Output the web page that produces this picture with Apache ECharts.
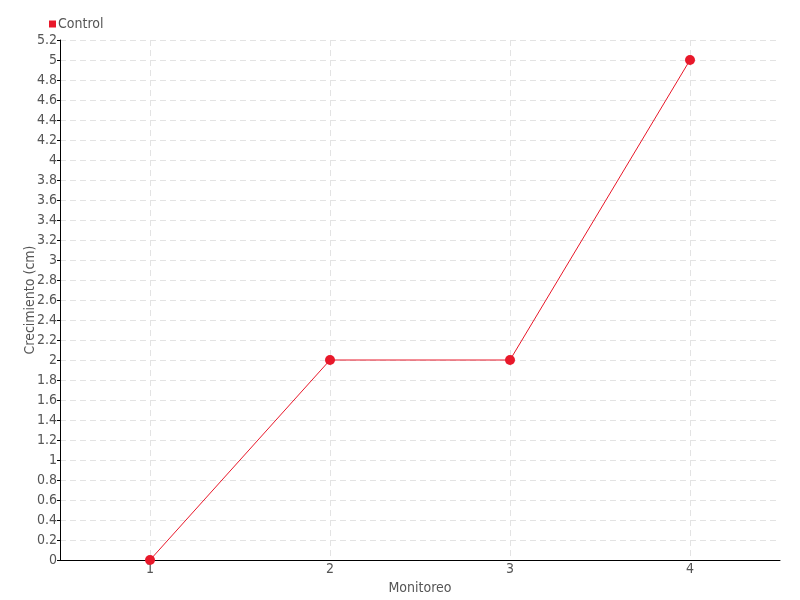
<!DOCTYPE html>
<html>
<head>
<meta charset="utf-8">
<script src="https://cdn.jsdelivr.net/npm/echarts@6/dist/echarts.min.js"></script>
<style>
  html, body { margin: 0; padding: 0; background: #fff; }
  #main { width: 800px; height: 600px; }
</style>
</head>
<body>
<div id="main"></div>
<script>
// datos del gráfico
const categories = ['1', '2', '3', '4'];
const controlValues = [0, 2, 2, 5];
const seriesName = 'Control';

const font = '"Liberation Sans Narrow", "DejaVu Sans Condensed", sans-serif';
const red = '#e8182a';

const chart = echarts.init(document.getElementById('main'));
const option = {
  animation: false,
  textStyle: { fontFamily: font },
  legend: {
    left: 44,
    top: 12,
    itemWidth: 7,
    itemHeight: 7,
    itemGap: 4,
    icon: 'rect',
    textStyle: { fontFamily: font, fontSize: 14, color: '#555', padding: [0, 0, 0, -3] },
    data: [seriesName]
  },
  grid: { left: 60, right: 20, top: 40, bottom: 40 },
  xAxis: {
    type: 'category',
    data: categories,
    boundaryGap: true,
    name: 'Monitoreo',
    nameLocation: 'middle',
    nameGap: 14,
    nameTextStyle: { fontFamily: font, fontSize: 14, color: '#555' },
    axisLine: { lineStyle: { color: '#000', width: 1 } },
    axisTick: { alignWithLabel: true, length: 13, lineStyle: { color: '#666' } },
    axisLabel: { fontFamily: font, fontSize: 14, color: '#555', margin: 2 },
    splitLine: { show: true, alignWithLabel: true, lineStyle: { color: '#e3e3e3', type: [6, 4] } }
  },
  yAxis: {
    type: 'value',
    min: 0,
    max: 5.2,
    interval: 0.2,
    name: 'Crecimiento (cm)',
    nameLocation: 'middle',
    nameGap: 23,
    nameMoveOverlap: false,
    nameTextStyle: { fontFamily: font, fontSize: 14, color: '#555' },
    axisLine: { show: true, lineStyle: { color: '#000', width: 1 } },
    axisTick: { show: true, length: 3, inside: false, lineStyle: { color: '#000' } },
    axisLabel: {
      fontFamily: font, fontSize: 14, color: '#555', margin: 3,
      formatter: v => String(Math.round(v * 10) / 10)
    },
    splitLine: { show: true, lineStyle: { color: '#e3e3e3', type: [6, 4] } }
  },
  series: [
    {
      name: seriesName,
      type: 'line',
      data: controlValues,
      symbol: 'circle',
      symbolSize: 10,
      itemStyle: { color: red },
      lineStyle: { color: red, width: 1 }
    }
  ]
};
chart.setOption(option);
</script>
</body>
</html>
